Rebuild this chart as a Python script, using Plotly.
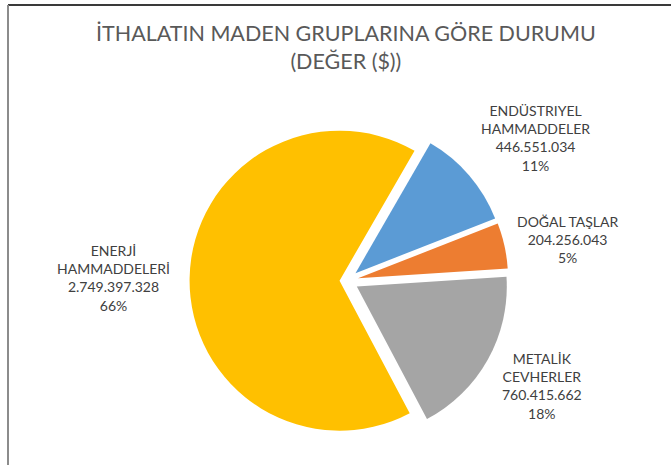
import plotly.graph_objects as go

# data
labels = ["ENDÜSTRIYEL<br>HAMMADDELER", "DOĞAL TAŞLAR", "METALİK<br>CEVHERLER", "ENERJİ<br>HAMMADDELERİ"]
values = [446551034, 204256043, 760415662, 2749397328]
colors = ["#5B9BD5", "#ED7D31", "#A5A5A5", "#FFC000"]
pulls = [0.078, 0.078, 0.078, 0.047]

W, H = 671, 465
FONT = "Lato"

total = sum(values)


def fmt(v):
    return f"{v:,}".replace(",", ".")


fig = go.Figure(go.Pie(
    labels=labels,
    values=values,
    marker=dict(colors=colors, line=dict(width=0)),
    pull=pulls,
    sort=False,
    direction="clockwise",
    rotation=30,
    textinfo="none",
    hoverinfo="label+value+percent",
    domain=dict(x=[0.2756, 0.7575], y=[0.0484, 0.7439]),
    showlegend=False,
))

# label positions (pixel centres of each text block)
label_pos = [(535, 138), (567, 239), (542, 386), (113, 278)]
annotations = []
for lab, v, (px, py) in zip(labels, values, label_pos):
    pct = round(100 * v / total)
    annotations.append(dict(
        x=px / W, y=1 - py / H, xref="paper", yref="paper",
        xanchor="center", yanchor="middle",
        text=f"{lab}<br>{fmt(v)}<br>{pct}%",
        showarrow=False, align="center",
        font=dict(family=FONT, size=14, color="#404040"),
    ))

annotations.append(dict(
    x=346 / W, y=1 - 47 / H, xref="paper", yref="paper",
    xanchor="center", yanchor="middle",
    text="İTHALATIN MADEN GRUPLARINA GÖRE DURUMU<br>(DEĞER ($))",
    showarrow=False, align="center",
    font=dict(family=FONT, size=21.5, color="#595959"),
))

fig.update_layout(
    width=W, height=H,
    margin=dict(l=0, r=0, t=0, b=0),
    paper_bgcolor="white",
    plot_bgcolor="white",
    annotations=annotations,
    shapes=[
        dict(type="line", xref="paper", yref="paper", x0=8 / W, x1=1, y0=1 - 5 / H, y1=1 - 5 / H,
             line=dict(color="#3a3a3a", width=2)),
        dict(type="line", xref="paper", yref="paper", x0=8 / W, x1=8 / W, y0=0, y1=1 - 5 / H,
             line=dict(color="#8c8c8c", width=2)),
    ],
)

fig.write_html("out.html", config={"displayModeBar": False},
               post_script="document.body.style.margin='0';")
